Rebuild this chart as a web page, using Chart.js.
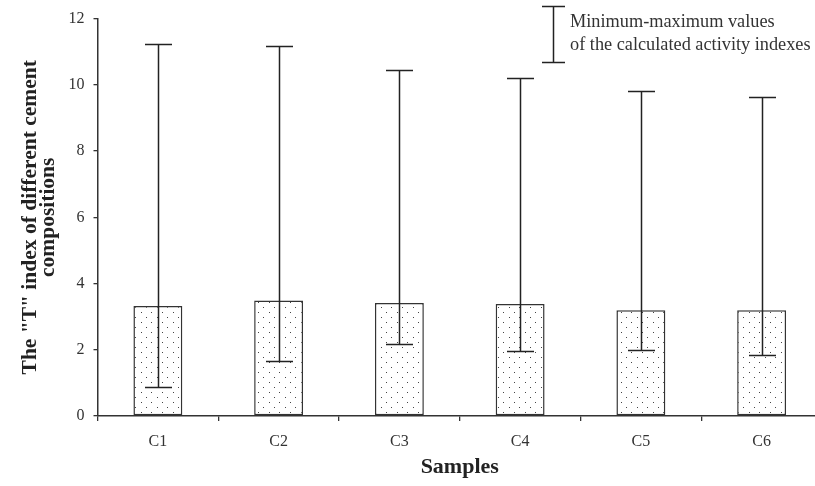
<!DOCTYPE html>
<html>
<head>
<meta charset="utf-8">
<script src="https://cdn.jsdelivr.net/npm/chart.js@4.4.0/dist/chart.umd.min.js"></script>
<style>
  html, body { margin: 0; padding: 0; background: #fff; overflow: hidden; }
  #box { width: 823px; height: 486px; }
</style>
</head>
<body>
<div id="box"><canvas id="myChart"></canvas></div>
<script>
'use strict'

// samples
const categories = ['C1', 'C2', 'C3', 'C4', 'C5', 'C6'];
// "T" index (bar height)
const meanValues = [3.32, 3.49, 3.41, 3.38, 3.19, 3.19];
// min / max of the calculated activity indexes
const minValues = [0.88, 1.65, 2.16, 1.95, 1.99, 1.84];
const maxValues = [11.23, 11.16, 10.46, 10.2, 9.81, 9.62];
const yTicks = [0, 2, 4, 6, 8, 10, 12];

const serif = "'Liberation Serif', 'Times New Roman', serif";

// dotted fill
function dotPattern() {
    const c = document.createElement('canvas');
    c.width = 32;
    c.height = 10;
    const g = c.getContext('2d');
    g.fillStyle = '#fff';
    g.fillRect(0, 0, 32, 10);
    g.fillStyle = '#444';
    [0, 11, 21].forEach(x => g.fillRect(x + 2, 2, 1, 1));
    [5, 16, 27].forEach(x => g.fillRect(x + 2, 7, 1, 1));
    return g.createPattern(c, 'repeat');
}

// error bars + the little legend in the top right
const minMaxPlugin = {
    id: 'minMax',
    afterDatasetsDraw(chart) {
        const ctx = chart.ctx;
        const y = chart.scales.y;
        const meta = chart.getDatasetMeta(0);
        ctx.save();
        ctx.strokeStyle = '#222';
        ctx.lineWidth = 1.5;
        meta.data.forEach((bar, i) => {
            const x = Math.round(bar.x) + 0.5;
            const yMin = Math.round(y.getPixelForValue(minValues[i])) + 0.5;
            const yMax = Math.round(y.getPixelForValue(maxValues[i])) + 0.5;
            ctx.beginPath();
            ctx.moveTo(x, yMin);
            ctx.lineTo(x, yMax);
            ctx.moveTo(x - 13.5, yMax);
            ctx.lineTo(x + 13.5, yMax);
            ctx.moveTo(x - 13.5, yMin);
            ctx.lineTo(x + 13.5, yMin);
            ctx.stroke();
        });

        // legend symbol
        const lx = 553.5;
        ctx.beginPath();
        ctx.moveTo(lx, 6.5);
        ctx.lineTo(lx, 62.5);
        ctx.moveTo(lx - 11.5, 6.5);
        ctx.lineTo(lx + 11.5, 6.5);
        ctx.moveTo(lx - 11.5, 62.5);
        ctx.lineTo(lx + 11.5, 62.5);
        ctx.stroke();

        ctx.fillStyle = '#333';
        ctx.font = '18.3px ' + serif;
        ctx.textAlign = 'left';
        ctx.textBaseline = 'middle';
        ctx.fillText('Minimum-maximum values', 570, 22);
        ctx.fillText('of the calculated activity indexes', 570, 45);
        ctx.restore();
    }
};

const ctx = document.getElementById('myChart');

window.myChart = new Chart(ctx, {
    type: 'bar',
    data: {
        labels: categories,
        datasets: [{
            data: meanValues,
            backgroundColor: dotPattern(),
            borderColor: '#333',
            borderWidth: 1.5,
            borderSkipped: false,
            barPercentage: 0.405,
            categoryPercentage: 1
        }]
    },
    options: {
        responsive: true,
        maintainAspectRatio: false,
        animation: false,
        events: [],
        layout: { padding: { top: 17, right: 1, bottom: 0, left: 0 } },
        plugins: {
            legend: { display: false },
            tooltip: { enabled: false }
        },
        scales: {
            x: {
                offset: true,
                grid: {
                    offset: true,
                    drawOnChartArea: false,
                    tickLength: 5,
                    color: '#333',
                    lineWidth: 1.3
                },
                border: { color: '#333', width: 1.5 },
                ticks: {
                    color: '#333',
                    padding: 11,
                    font: { family: serif, size: 16 }
                },
                title: {
                    display: true,
                    text: 'Samples',
                    color: '#222',
                    padding: { top: 0, bottom: 8 },
                    font: { family: serif, size: 22, weight: 'bold', lineHeight: 1 }
                },
                afterFit(scale) { scale.height = 70; }
            },
            y: {
                min: 0,
                max: 12,
                afterBuildTicks(scale) {
                    scale.ticks = yTicks.map(v => ({ value: v }));
                },
                grid: {
                    drawOnChartArea: false,
                    tickLength: 4,
                    color: '#333',
                    lineWidth: 1.3
                },
                border: { color: '#333', width: 1.5 },
                ticks: {
                    color: '#333',
                    padding: 9,
                    font: { family: serif, size: 16 }
                },
                title: {
                    display: true,
                    text: ['The "T" index of different cement', 'compositions'],
                    color: '#222',
                    padding: { top: 21, bottom: 0 },
                    font: { family: serif, size: 21.5, weight: 'bold', lineHeight: 0.84 }
                },
                afterFit(scale) { scale.width = 97.5; }
            }
        }
    },
    plugins: [minMaxPlugin]
});
</script>
</body>
</html>
